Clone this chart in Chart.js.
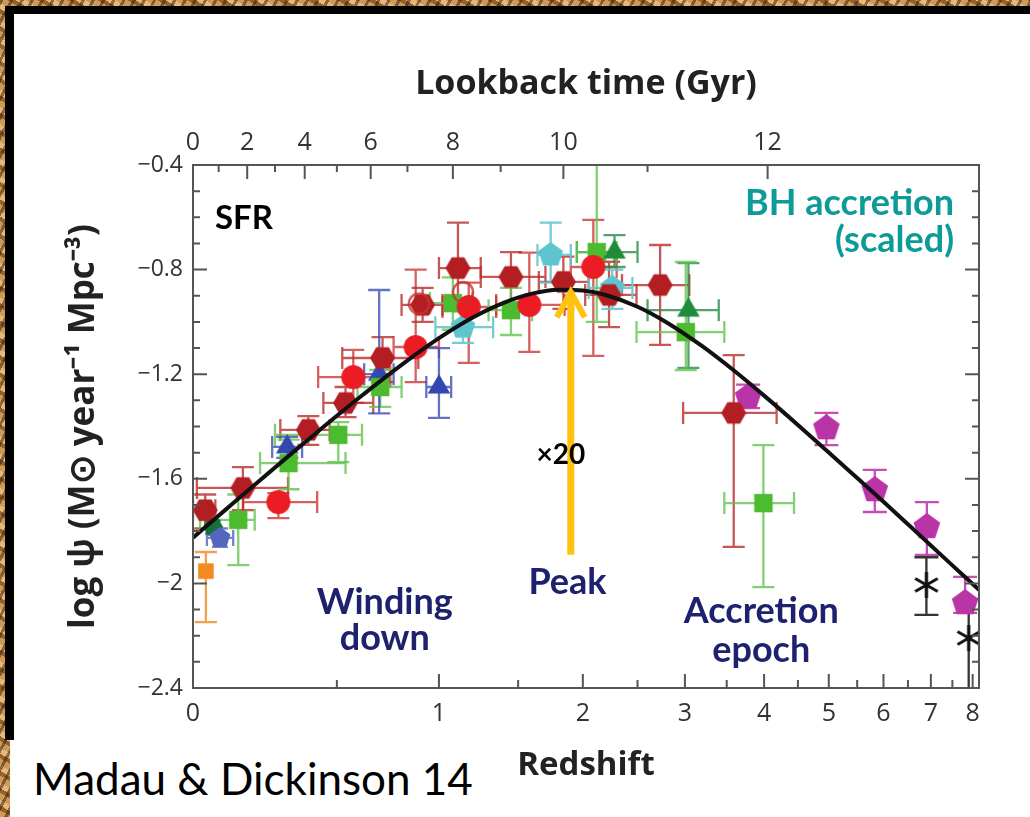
<!DOCTYPE html>
<html>
<head>
<meta charset="utf-8">
<title>Cosmic star formation history</title>
<script src="https://cdn.jsdelivr.net/npm/chart.js@4.4.1/dist/chart.umd.min.js"></script>
<style>
  html, body { margin: 0; padding: 0; }
  body {
    width: 1030px; height: 817px; position: relative; overflow: hidden;
    background:
      repeating-linear-gradient(118deg, rgba(50,28,8,0.5) 0 3px, rgba(0,0,0,0) 3px 9px),
      repeating-linear-gradient(30deg, #cf9a58 0 6px, #94622c 6px 10px, #e6b87a 10px 15px);
  }
  #frame {
    position: absolute; left: 5px; top: 6px; width: 1030px; height: 734px;
    box-sizing: border-box; background: #fff;
    border-left: 9px solid #000; border-top: 8px solid #000;
  }
  #foot { position: absolute; left: 10px; top: 740px; right: 0; bottom: 0; background: #fff; }
  #credit {
    position: absolute; left: 33px; top: 752px; margin: 0;
    font: 44px Lato, "Open Sans", sans-serif; color: #000; white-space: nowrap;
  }
  canvas { position: absolute; left: 0; top: 0; }
</style>
</head>
<body>
<div id="frame"></div>
<div id="foot"></div>
<p id="credit">Madau &amp; Dickinson 14</p>
<canvas id="sfr" width="1030" height="817"></canvas>
<script>
// bottom axis: redshift, plotted on log(1+z)
const redshiftTicks = [0, 1, 2, 3, 4, 5, 6, 7, 8];
const redshiftMinor = [0.5, 1.5, 2.5, 3.5, 4.5, 5.5, 6.5, 7.5];
// top axis: lookback time (Gyr) and the redshift each tick sits at
const lookbackGyr = [0, 1, 2, 3, 4, 5, 6, 7, 8, 9, 10, 11, 12];
const lookbackZ = [0, 0.075, 0.165, 0.26, 0.37, 0.5, 0.65, 0.83, 1.08, 1.38, 1.84, 2.6, 4.05];
// left axis: log SFR density
const sfrTicks = [-0.4, -0.8, -1.2, -1.6, -2, -2.4];

// fitted star-formation history (black curve)
const fitZ = [0, 0.1, 0.2, 0.3, 0.4, 0.5, 0.6, 0.8, 1.0, 1.2, 1.4, 1.6, 1.8, 2.0, 2.2, 2.5, 2.8, 3.2, 3.6, 4.0, 4.5, 5, 5.5, 6, 6.5, 7, 7.5, 8, 8.2];
const fitLogSFR = [-1.825, -1.714, -1.613, -1.521, -1.437, -1.359, -1.288, -1.164, -1.062, -0.983, -0.927, -0.892, -0.877, -0.880, -0.897, -0.942, -1.002, -1.093, -1.188, -1.282, -1.394, -1.499, -1.597, -1.688, -1.774, -1.855, -1.931, -2.002, -2.030];

// measurements: [z, logSFR, zLow, zHigh, logLow, logHigh]
const darkRedHex = [
  [0.035, -1.72, 0.0, 0.065, -1.79, -1.66],
  [0.151, -1.635, 0.011, 0.307, -1.72, -1.555],
  [0.384, -1.413, 0.279, 0.47, -1.47, -1.36],
  [0.537, -1.31, 0.444, 0.662, -1.364, -1.249],
  [0.706, -1.138, 0.523, 0.887, -1.23, -1.058],
  [0.91, -0.935, 0.8, 1.02, -1.0, -0.87],
  [1.11, -0.794, 1.0, 1.25, -0.92, -0.62],
  [1.45, -0.828, 1.25, 1.7, -0.93, -0.733],
  [1.84, -0.847, 1.65, 2.05, -0.95, -0.75],
  [2.23, -0.897, 2.02, 2.49, -1.02, -0.77],
  [2.73, -0.859, 2.35, 3.05, -1.088, -0.706],
  [3.59, -1.348, 2.98, 4.18, -1.86, -1.127]
];
const redCircle = [
  [0.272, -1.689, 0.152, 0.419, -1.75, -1.655],
  [0.571, -1.211, 0.423, 0.744, -1.31, -1.107],
  [0.873, -1.096, 0.76, 1.0, -1.23, -0.80],
  [1.175, -0.943, 1.02, 1.35, -1.157, -0.85],
  [1.58, -0.935, 1.35, 1.85, -1.115, -0.735],
  [2.09, -0.79, 1.9, 2.3, -1.13, -0.61]
];
const greenSquare = [
  [0.136, -1.757, 0.02, 0.19, -1.93, -1.66],
  [0.309, -1.54, 0.208, 0.537, -1.64, -1.45],
  [0.506, -1.432, 0.26, 0.61, -1.536, -1.383],
  [0.695, -1.249, 0.59, 0.80, -1.325, -1.184],
  [1.08, -0.928, 0.95, 1.2, -1.03, -0.83],
  [1.45, -0.955, 1.3, 1.6, -1.05, -0.87],
  [2.12, -0.733, 1.95, 2.3, -1.0, -0.3],
  [3.01, -1.039, 2.49, 3.47, -1.184, -0.771],
  [3.99, -1.693, 3.47, 4.44, -2.014, -1.471]
];
const darkGreenTri = [
  [2.28, -0.733, 1.95, 2.5, -0.79, -0.668],
  [3.04, -0.955, 2.6, 3.4, -1.176, -0.775]
];
const darkGreenHex = [
  [0.058, -1.784, 0.058, 0.058, -1.81, -1.76]
];
const blueTri = [
  [0.304, -1.478, 0.25, 0.36, -1.52, -1.44],
  [0.69, -1.2, 0.62, 0.76, -1.35, -0.878],
  [1.0, -1.249, 0.93, 1.07, -1.367, -1.10]
];
const bluePent = [
  [0.079, -1.826, 0.04, 0.12, -1.86, -1.79]
];
const cyanPent = [
  [1.74, -0.744, 1.64, 1.9, -0.85, -0.62],
  [2.26, -0.87, 2.05, 2.45, -0.95, -0.8],
  [1.14, -1.02, 0.98, 1.33, -1.08, -0.96]
];
const magentaPent = [
  [3.78, -1.287, 3.78, 3.78, -1.33, -1.24],
  [4.96, -1.406, 4.96, 4.96, -1.471, -1.348],
  [5.83, -1.643, 5.83, 5.83, -1.727, -1.566],
  [6.91, -1.784, 6.91, 6.91, -1.891, -1.689],
  [7.81, -2.075, 7.81, 7.81, -2.113, -1.975]
];
const blackStar = [
  [6.9, -2.006, 6.9, 6.9, -2.12, -1.90],
  [7.9, -2.209, 7.9, 7.9, -2.45, -2.06]
];
const orangeSquare = [
  [0.037, -1.953, 0.037, 0.037, -2.148, -1.88]
];
const openRing = [
  [0.89, -0.93, 0.89, 0.89, -0.93, -0.93],
  [1.14, -0.886, 1.14, 1.14, -0.886, -0.886]
];

const lz = z => Math.log10(1 + z);

// marker glyphs drawn once on small canvases
function glyph(size, paint) {
  const c = document.createElement('canvas');
  c.width = c.height = size;
  const g = c.getContext('2d');
  g.translate(size / 2, size / 2);
  paint(g);
  return c;
}
function polygon(sides, r, color, rot) {
  return glyph(Math.ceil(2 * r + 4), g => {
    g.beginPath();
    for (let i = 0; i < sides; i++) {
      const a = rot + i * 2 * Math.PI / sides;
      g.lineTo(r * Math.cos(a), r * Math.sin(a));
    }
    g.closePath();
    g.fillStyle = color;
    g.fill();
  });
}
function disc(r, color) {
  return glyph(Math.ceil(2 * r + 4), g => {
    g.beginPath(); g.arc(0, 0, r, 0, 2 * Math.PI); g.fillStyle = color; g.fill();
  });
}
function ring(r, color) {
  return glyph(Math.ceil(2 * r + 6), g => {
    g.beginPath(); g.arc(0, 0, r, 0, 2 * Math.PI); g.strokeStyle = color; g.lineWidth = 2.5; g.stroke();
  });
}
function asterisk(r, color) {
  return glyph(Math.ceil(2 * r + 4), g => {
    g.strokeStyle = color; g.lineWidth = 3;
    g.beginPath();
    [90, 30, 150].forEach(d => {
      const a = d * Math.PI / 180;
      g.moveTo(-r * Math.cos(a), -r * Math.sin(a));
      g.lineTo(r * Math.cos(a), r * Math.sin(a));
    });
    g.stroke();
  });
}

const up = -Math.PI / 2;
const series = [
  { rows: openRing, marker: ring(10, 'rgba(200,50,50,0.8)'), bar: 'rgba(200,60,60,0.8)', cap: 10 },
  { rows: redCircle, marker: disc(12, '#ec1c24'), bar: 'rgba(205,55,55,0.8)', cap: 11 },
  { rows: darkRedHex, marker: polygon(6, 12.5, '#b31e22', 0), bar: 'rgba(185,45,45,0.8)', cap: 11 },
  { rows: cyanPent, marker: polygon(5, 13, '#5ec5cf', up), bar: 'rgba(100,200,210,0.9)', cap: 11 },
  { rows: darkGreenTri, marker: polygon(3, 13, '#1f8b3b', up), bar: 'rgba(40,140,70,0.8)', cap: 11 },
  { rows: greenSquare, marker: polygon(4, 13, '#4dbb2f', Math.PI / 4), bar: 'rgba(100,195,80,0.8)', cap: 11 },
  { rows: blueTri, marker: polygon(3, 13, '#3347b0', up), bar: 'rgba(60,80,180,0.8)', cap: 11 },
  { rows: bluePent, marker: polygon(5, 11, '#5566c0', up), bar: 'rgba(80,100,190,0.8)', cap: 8 },
  { rows: darkGreenHex, marker: polygon(6, 10, '#16703a', 0), bar: 'rgba(30,110,60,0.8)', cap: 8 },
  { rows: orangeSquare, marker: polygon(4, 11, '#f28a22', Math.PI / 4), bar: 'rgba(240,150,60,0.9)', cap: 11 },
  { rows: magentaPent, marker: polygon(5, 14, '#b934a6', up), bar: 'rgba(190,60,170,0.9)', cap: 12 },
  { rows: blackStar, marker: asterisk(13, '#111'), bar: 'rgba(30,30,30,0.9)', cap: 12 }
];

// error bars under the markers, clipped to the plot frame
const errorBars = {
  id: 'errorBars',
  beforeDatasetsDraw(chart) {
    const { ctx, chartArea: a, scales: { x, y } } = chart;
    ctx.save();
    ctx.beginPath();
    ctx.rect(a.left, a.top, a.right - a.left, a.bottom - a.top);
    ctx.clip();
    ctx.lineWidth = 2.3;
    chart.data.datasets.forEach(ds => {
      if (!ds.rows) return;
      ctx.strokeStyle = ds.barColor;
      const c = ds.cap;
      ds.rows.forEach(([z, v, z0, z1, v0, v1]) => {
        const px = x.getPixelForValue(lz(z)), py = y.getPixelForValue(v);
        ctx.beginPath();
        if (z1 > z0) {
          const xa = x.getPixelForValue(lz(z0)), xb = x.getPixelForValue(lz(z1));
          ctx.moveTo(xa, py); ctx.lineTo(xb, py);
          ctx.moveTo(xa, py - c); ctx.lineTo(xa, py + c);
          ctx.moveTo(xb, py - c); ctx.lineTo(xb, py + c);
        }
        if (v1 > v0) {
          const ya = y.getPixelForValue(v0), yb = y.getPixelForValue(v1);
          ctx.moveTo(px, ya); ctx.lineTo(px, yb);
          ctx.moveTo(px - c, ya); ctx.lineTo(px + c, ya);
          ctx.moveTo(px - c, yb); ctx.lineTo(px + c, yb);
        }
        ctx.stroke();
      });
    });
    ctx.restore();
  }
};

// plot frame with inward ticks on all four sides
const frameTicks = {
  id: 'frameTicks',
  afterDatasetsDraw(chart) {
    const { ctx, chartArea: a, scales: { x, y } } = chart;
    ctx.save();
    ctx.strokeStyle = '#555';
    ctx.lineWidth = 2;
    ctx.strokeRect(a.left, a.top, a.right - a.left, a.bottom - a.top);
    ctx.beginPath();
    const vTick = (px, len) => {
      ctx.moveTo(px, a.bottom); ctx.lineTo(px, a.bottom - len);
    };
    redshiftTicks.forEach(z => vTick(x.getPixelForValue(lz(z)), 14));
    redshiftMinor.forEach(z => vTick(x.getPixelForValue(lz(z)), 8));
    lookbackZ.forEach((z, i) => {
      const px = x.getPixelForValue(lz(z));
      ctx.moveTo(px, a.top); ctx.lineTo(px, a.top + (lookbackGyr[i] % 2 ? 7 : 14));
    });
    for (let k = 0; k <= 20; k++) {
      const v = -2.4 + k * 0.1;
      const py = y.getPixelForValue(v);
      const len = k % 4 === 0 ? 14 : 7;
      ctx.moveTo(a.left, py); ctx.lineTo(a.left + len, py);
      ctx.moveTo(a.right, py); ctx.lineTo(a.right - len, py);
    }
    ctx.stroke();
    ctx.restore();
  }
};

// slide annotations placed in data coordinates
const notes = [
  { text: 'SFR', z: 0.064, v: -0.603, color: '#000', size: 33, align: 'left' },
  { text: 'BH accretion', z: 7.54, v: -0.545, color: '#0d9b98', size: 36, align: 'right' },
  { text: '(scaled)', z: 7.54, v: -0.687, color: '#0d9b98', size: 36, align: 'right' },
  { text: 'Winding', z: 0.717, v: -2.071, color: '#1d216e', size: 36, align: 'center' },
  { text: 'down', z: 0.717, v: -2.209, color: '#1d216e', size: 36, align: 'center' },
  { text: 'Peak', z: 1.873, v: -1.998, color: '#1d216e', size: 36, align: 'center' },
  { text: 'Accretion', z: 3.96, v: -2.106, color: '#1d216e', size: 36, align: 'center' },
  { text: 'epoch', z: 3.96, v: -2.255, color: '#1d216e', size: 36, align: 'center' },
  { text: '\u00d720', z: 1.82, v: -1.509, color: '#000', size: 28, align: 'center' }
];
const arrowZ = 1.9, arrowFrom = -1.89, arrowTo = -0.875;

const annotations = {
  id: 'annotations',
  afterDraw(chart) {
    const { ctx, scales: { x, y } } = chart;
    const X = z => x.getPixelForValue(lz(z)), Y = v => y.getPixelForValue(v);
    ctx.save();
    // yellow arrow marking the peak
    const ax = X(arrowZ), tip = Y(arrowTo);
    ctx.strokeStyle = '#ffc20e';
    ctx.lineWidth = 7;
    ctx.beginPath();
    ctx.moveTo(ax, Y(arrowFrom)); ctx.lineTo(ax, tip + 2);
    ctx.stroke();
    ctx.lineWidth = 6;
    ctx.lineJoin = 'miter';
    ctx.beginPath();
    ctx.moveTo(ax - 14, tip + 28); ctx.lineTo(ax, tip + 3); ctx.lineTo(ax + 14, tip + 28);
    ctx.stroke();
    ctx.textBaseline = 'middle';
    notes.forEach(n => {
      ctx.font = `bold ${n.size}px Lato, "Open Sans", sans-serif`;
      ctx.fillStyle = n.color;
      ctx.textAlign = n.align;
      ctx.fillText(n.text, X(n.z), Y(n.v));
    });
    ctx.restore();
  }
};

Chart.defaults.font.family = '"Open Sans", sans-serif';
Chart.defaults.color = '#333';

const datasets = [{
  label: 'fit',
  data: fitZ.map((z, i) => ({ x: lz(z), y: fitLogSFR[i] })),
  showLine: true,
  borderColor: '#111',
  borderWidth: 4,
  pointRadius: 0,
  cubicInterpolationMode: 'monotone'
}].concat(series.map(s => ({
  data: s.rows.map(r => ({ x: lz(r[0]), y: r[1] })),
  rows: s.rows,
  barColor: s.bar,
  cap: s.cap,
  pointStyle: s.marker,
  pointRadius: 10,
  showLine: false
})));

new Chart(document.getElementById('sfr'), {
  type: 'scatter',
  data: { datasets },
  options: {
    responsive: false,
    animation: false,
    events: [],
    layout: { padding: { left: 40, right: 51, top: 50, bottom: 20 } },
    plugins: { legend: { display: false }, tooltip: { enabled: false } },
    scales: {
      x: {
        type: 'linear', position: 'bottom', min: 0, max: 0.962,
        afterBuildTicks: s => { s.ticks = redshiftTicks.map(z => ({ value: lz(z) })); },
        afterFit: s => { s.height = 109; },
        ticks: { padding: 11, font: { size: 25 }, callback: (v, i) => String(redshiftTicks[i]) },
        grid: { display: false, drawTicks: false },
        border: { display: false },
        title: { display: true, text: 'Redshift', color: '#222', font: { size: 33, weight: 'bold' }, padding: { top: 0, bottom: 12 } }
      },
      xTop: {
        type: 'linear', position: 'top', min: 0, max: 0.962,
        afterBuildTicks: s => { s.ticks = lookbackZ.map(z => ({ value: lz(z) })); },
        afterFit: s => { s.height = 115; },
        ticks: { padding: 7, font: { size: 25 }, callback: (v, i) => (lookbackGyr[i] % 2 ? '' : String(lookbackGyr[i])) },
        grid: { display: false, drawTicks: false },
        border: { display: false },
        title: { display: true, text: 'Lookback time (Gyr)', color: '#222', font: { size: 34, weight: 'bold' }, padding: { top: 14, bottom: 0 } }
      },
      y: {
        type: 'linear', position: 'left', min: -2.4, max: -0.4,
        afterBuildTicks: s => { s.ticks = sfrTicks.map(v => ({ value: v })); },
        afterFit: s => { s.width = 153; },
        ticks: { padding: 10, font: { size: 23 }, callback: v => String(Math.round(v * 10) / 10).replace('-', '\u2212') },
        grid: { display: false, drawTicks: false },
        border: { display: false },
        title: { display: true, text: 'log \u03c8 (M\u2299 year\u207b\u00b9 Mpc\u207b\u00b3)', color: '#222', font: { size: 35, weight: 'bold' }, padding: { top: 23, bottom: 0 } }
      }
    }
  },
  plugins: [errorBars, frameTicks, annotations]
});
</script>
</body>
</html>
